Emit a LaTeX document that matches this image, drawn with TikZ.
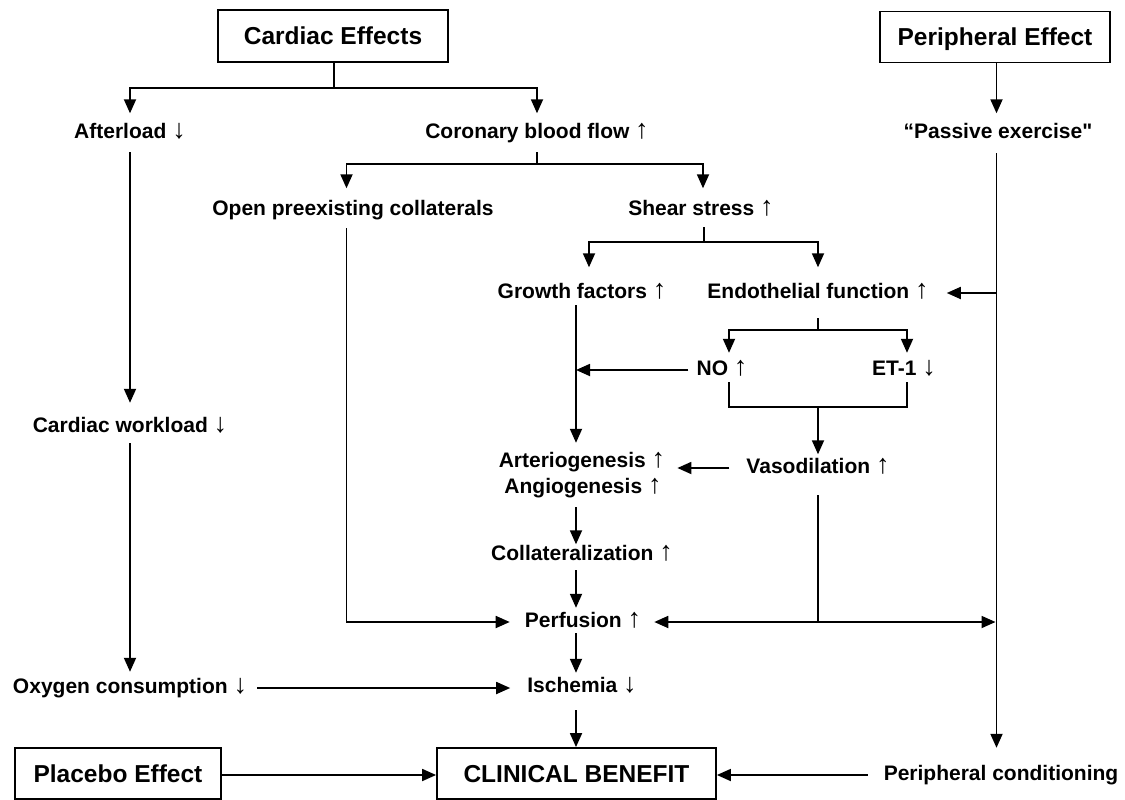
\documentclass[tikz,border=0pt]{standalone}
\usepackage{fontspec}
\setmainfont{Liberation Sans}[Ligatures=TeXOff]
\usetikzlibrary{arrows.meta}
\newcommand\arrU{{\fontsize{27}{27}\selectfont\mdseries ↑}}
\newcommand\arrD{{\fontsize{27}{27}\selectfont\mdseries ↓}}
\begin{document}
\begin{tikzpicture}[x=1pt,y=-1pt,
 lbl/.style={font=\fontsize{21}{25}\selectfont\bfseries, inner sep=0pt, text height=15pt, text depth=4pt},
 boxn/.style={draw, line width=1.8pt, font=\fontsize{24.5}{29}\selectfont\bfseries, inner sep=0pt, text height=17.5pt, text depth=0pt},
 ln/.style={line width=1.8pt},
 arr/.style={ln, -{Triangle[length=14pt,width=12pt]}},
 darr/.style={ln, {Triangle[length=14pt,width=12pt]}-{Triangle[length=14pt,width=12pt]}}]

\useasboundingbox (0,0) rectangle (1125,800);

% boxes
\node[boxn, minimum width=230pt, minimum height=52pt] (cardiac) at (333,36) {Cardiac Effects};
\node[boxn, minimum width=230pt, minimum height=51pt] (periph) at (995,37) {Peripheral Effect};
\node[boxn, minimum width=279pt, minimum height=51pt] (clin) at (576.5,773.5) {CLINICAL BENEFIT};
\node[boxn, minimum width=206pt, minimum height=51pt] (placebo) at (118,773.5) {Placebo Effect};

% labels
\node[lbl] (after) at (130,133) {Afterload \arrD};
\node[lbl] (coronary) at (537,133) {Coronary blood flow \arrU};
\node[lbl] (passive) at (998,133) {“Passive exercise"};
\node[lbl] (open) at (353,210) {Open preexisting collaterals};
\node[lbl] (shear) at (701,210) {Shear stress \arrU};
\node[lbl] (growth) at (582,293) {Growth factors \arrU};
\node[lbl] (endo) at (818,293) {Endothelial function \arrU};
\node[lbl] (no) at (722,370) {NO \arrU};
\node[lbl] (et) at (904,370) {ET-1 \arrD};
\node[lbl] (arterio) at (582,462) {Arteriogenesis \arrU};
\node[lbl] (angio) at (583,488) {Angiogenesis \arrU};
\node[lbl] (vaso) at (818,468) {Vasodilation \arrU};
\node[lbl] (collat) at (582,555) {Collateralization \arrU};
\node[lbl] (perf) at (583,622) {Perfusion \arrU};
\node[lbl] (isch) at (582,687) {Ischemia \arrD};
\node[lbl] (work) at (130,427) {Cardiac workload \arrD};
\node[lbl] (oxy) at (130,688) {Oxygen consumption \arrD};
\node[lbl] (pcond) at (1001,775) {Peripheral conditioning};

% junctions and line positions
\coordinate (c1) at (334,88);
\coordinate (c2) at (537,164);
\coordinate (c3) at (704,242);
\coordinate (c4) at (818,330);
\coordinate (c5) at (818,407);
\coordinate (xo) at (346.5,0);
\coordinate (xs) at (703,0);
\coordinate (xg) at (589,0);
\coordinate (xv) at (576,0);
\coordinate (xn) at (729,0);
\coordinate (xe) at (907,0);
\coordinate (xp) at (996.5,0);
\coordinate (pj) at (996.5,622);
\coordinate (ej) at (996.5,293);
\coordinate (vj) at (818,622);

% connectors
\draw[ln] (cardiac.south -| c1) -- (c1);
\draw[arr, shorten >=10pt] (c1) -| (after.north);
\draw[arr, shorten >=10pt] (c1) -| (coronary.north);
\draw[arr, shorten >=10pt] (periph.south -| xp) -- (passive.north -| xp);

\draw[ln, shorten <=9.5pt] (coronary.south) -- (c2);
\draw[arr, shorten >=12pt] (c2) -| (open.north -| xo);
\draw[arr, shorten >=12pt] (c2) -| (shear.north -| xs);

\draw[ln, shorten <=7.5pt] (shear.south -| c3) -- (c3);
\draw[arr, shorten >=16pt] (c3) -| (growth.north -| xg);
\draw[arr, shorten >=16pt] (c3) -| (endo.north);

\draw[ln, shorten <=15.5pt] (endo.south) -- (c4);
\draw[arr, shorten >=7.5pt] (c4) -| (no.north -| xn);
\draw[arr, shorten >=7.5pt] (c4) -| (et.north -| xe);
\draw[ln, shorten <=2.5pt] (no.south -| xn) |- (c5);
\draw[ln, shorten <=2.5pt] (et.south -| xe) |- (c5);
\draw[arr, shorten >=4pt] (c5) -- (vaso.north);

\draw[arr, shorten <=2.5pt, shorten >=9.5pt] (growth.south -| xv) -- (arterio.north -| xv);
\draw[arr, shorten <=8pt] (no.west) -- (no.west -| xv);
\draw[arr, shorten <=17pt, shorten >=12pt] (vaso.west) -- (vaso.west -| arterio.east);
\draw[arr, shorten <=9.5pt, shorten >=1pt] (angio.south -| xv) -- (collat.north -| xv);
\draw[arr, shorten <=5.5pt, shorten >=4.5pt] (collat.south -| xv) -- (perf.north -| xv);
\draw[arr, shorten <=1.5pt, shorten >=4.5pt] (perf.south -| xv) -- (isch.north -| xv);
\draw[arr, shorten <=13.5pt] (isch.south -| xv) -- (clin.north -| xv);

\draw[arr, shorten <=9.5pt, shorten >=14.5pt] (after.south) -- (work.north);
\draw[arr, shorten <=6.5pt, shorten >=6.5pt] (work.south) -- (oxy.north);
\draw[arr, shorten <=10pt, shorten >=17pt] (oxy.east) -- (oxy.east -| isch.west);

\draw[arr, shorten <=8.5pt, shorten >=15pt] (open.south -| xo) |- (perf.west);
\draw[darr, shorten <=13pt, shorten >=1pt] (perf.east) -- (pj);
\draw[ln, shorten <=17.5pt] (vaso.south) -- (vj);

\draw[arr, shorten <=10.5pt, shorten >=17.5pt] (passive.south -| xp) -- (pcond.north -| xp);
\draw[arr, shorten >=18pt] (ej) -- (endo.east |- ej);

\draw[arr, shorten <=16pt] (pcond.west) -- (pcond.west -| clin.east);
\draw[arr] (placebo.east |- pcond) -- (clin.west |- pcond);
\end{tikzpicture}
\end{document}
